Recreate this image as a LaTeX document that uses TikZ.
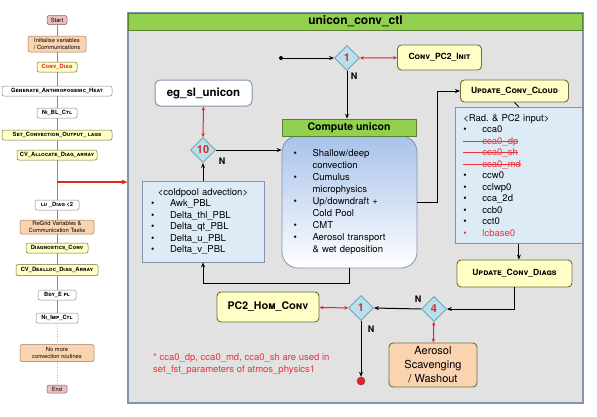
\documentclass[tikz,border=0pt]{standalone}
\usepackage{fontspec}
\setmainfont{TeX Gyre Heros}
\usetikzlibrary{shapes.geometric,arrows.meta}

\definecolor{pinkfill}{HTML}{E8BFBE}
\definecolor{pinkline}{HTML}{8E5B5B}
\definecolor{orangefill}{HTML}{FAD3B0}
\definecolor{orangeline}{HTML}{9C7A5C}
\definecolor{yellowfill}{HTML}{FFFFC6}
\definecolor{yellowline}{HTML}{6E6E3C}
\definecolor{greyline}{HTML}{8A8A8A}
\definecolor{ctlfill}{HTML}{E2E2E2}
\definecolor{ctlline}{HTML}{8393B0}
\definecolor{headgreen}{HTML}{92D050}
\definecolor{headline}{HTML}{5B7F33}
\definecolor{diafill}{HTML}{B6E0EC}
\definecolor{dialine}{HTML}{6A98A8}
\definecolor{listfill}{HTML}{DDEBF7}
\definecolor{computeblue}{HTML}{A8C2EA}
\definecolor{numred}{HTML}{E02828}
\definecolor{textred}{HTML}{E8333A}

\newcommand\modname[1]{\textbf{\textsc{#1}}}
\newcommand\itm{\makebox[19pt][l]{\textbullet}}
\newcommand\struckitem[1]{\leavevmode\setbox0\hbox{#1}\rlap{\rule[2.8pt]{\dimexpr\wd0+19pt\relax}{0.7pt}}\hspace*{19pt}\box0}

\begin{document}
\begin{tikzpicture}[x=1pt, y=-1pt,
      leftbox/.style ={draw, rounded corners=2pt, inner sep=0pt, line width=0.5pt, align=center,
                       font=\fontsize{5.8}{6.7}\selectfont},
      pinkbox/.style ={leftbox, fill=pinkfill, draw=pinkline},
      orangebox/.style ={leftbox, fill=orangefill, draw=orangeline},
      yellowbox/.style ={leftbox, fill=yellowfill, draw=yellowline},
      whitebox/.style ={leftbox, fill=white, draw=greyline},
      colline/.style ={draw=greyline, line width=0.6pt},
      callbox/.style ={draw=yellowline, fill=yellowfill, rounded corners=4pt, line width=0.9pt, inner sep=0pt,
                       font=\fontsize{8.5}{10}\selectfont},
      decision/.style ={diamond, aspect=1, draw=dialine, fill=diafill, line width=0.8pt, minimum size=25pt,
                        inner sep=0pt, text=numred, font=\fontsize{11}{11}\selectfont\bfseries},
      listbox/.style ={draw=ctlline, fill=listfill, line width=0.8pt, align=left,
                       font=\fontsize{9.5}{11.5}\selectfont},
      flow/.style ={-{Stealth[length=5pt,width=4pt]}, line width=1pt},
      link/.style ={{Stealth[length=4pt,width=3.5pt]}-{Stealth[length=4pt,width=3.5pt]}, line width=1pt, numred},
      nlabel/.style ={inner sep=0pt, font=\fontsize{9}{9}\selectfont\bfseries}]
   \useasboundingbox (0,0) rectangle (597,416);

   % main control box
   \node[draw=ctlline, fill=ctlfill, line width=1.2pt, minimum width=455pt, minimum height=390pt, inner sep=0pt]
        (ctl) at (355.5,208) {};
   \node[draw=headline, fill=headgreen, line width=0.6pt, minimum width=454pt, minimum height=17pt, inner sep=0pt,
         font=\fontsize{12}{12}\selectfont\bfseries] (ctlhead) at (355.5,21.5) {unicon\_conv\_ctl};

   % left column
   \node[pinkbox, minimum width=20pt, minimum height=9pt] (start) at (57,20) {Start};
   \node[orangebox, minimum width=58pt, minimum height=16pt] (init) at (57,44) {Initialise variables\\/ Communications};
   \node[yellowbox, minimum width=40pt, minimum height=10pt, text=numred] (convdiag) at (57,67) {\modname{Conv\_Diag}};
   \node[whitebox, minimum width=110pt, minimum height=10pt] (genheat) at (57,91) {\modname{Generate\_Anthropogenic\_Heat}};
   \node[whitebox, minimum width=40pt, minimum height=10pt] (niblctl) at (57,113) {\modname{Ni\_BL\_Ctl}};
   \node[yellowbox, minimum width=110pt, minimum height=10pt] (setflags) at (57,135) {\modname{Set\_Convection\_Output\_ lags}};
   \node[yellowbox, minimum width=80pt, minimum height=10pt] (cvalloc) at (57,155) {\modname{CV\_Allocate\_Diag\_array}};
   \coordinate (tap) at (57,182);
   \node[whitebox, minimum width=44pt, minimum height=10pt] (ludiag) at (57,205) {\modname{lu \_Diag <2}};
   \node[orangebox, minimum width=74pt, minimum height=14pt] (regrid) at (57,227) {ReGrid Variables \&\\Communication Tasks};
   \node[yellowbox, minimum width=62pt, minimum height=10pt] (diagconv) at (57,248) {\modname{Diagnostics\_Conv}};
   \node[yellowbox, minimum width=82pt, minimum height=11pt] (cvdealloc) at (57,270) {\modname{CV\_Dealloc\_Diag\_Array}};
   \node[whitebox, minimum width=38pt, minimum height=10pt] (bdyepl) at (57,295) {\modname{Bdy\_E pl}};
   \node[whitebox, minimum width=42pt, minimum height=10pt] (niimpctl) at (57,318) {\modname{Ni\_Imp\_Ctl}};
   \node[orangebox, minimum width=74pt, minimum height=17pt] (nomore) at (57,353) {No more\\convection routines};
   \node[pinkbox, minimum width=20pt, minimum height=8pt] (end) at (57,389) {End};

   \draw[colline] (start) -- (init);
   \draw[colline] (init) -- (convdiag);
   \draw[colline] (convdiag) -- (genheat);
   \draw[colline] (genheat) -- (niblctl);
   \draw[colline] (niblctl) -- (setflags);
   \draw[colline] (setflags) -- (cvalloc);
   \draw[colline] (cvalloc) -- (ludiag);
   \draw[colline] (ludiag) -- (regrid);
   \draw[colline] (regrid) -- (diagconv);
   \draw[colline] (diagconv) -- (cvdealloc);
   \draw[colline] (cvdealloc) -- (bdyepl);
   \draw[colline] (bdyepl) -- (niimpctl);
   \draw[colline, dotted, draw=greyline!60] (niimpctl) -- (nomore);
   \draw[colline, dotted, draw=greyline!60] (nomore) -- (end);

   \draw[-{Stealth[length=6pt,width=5pt]}, line width=1.2pt, numred] (tap) -- (tap -| ctl.west);

   % top branch
   \node[circle, fill=black, minimum size=4pt, inner sep=0pt] (dot1) at (281,58) {};
   \node[decision] (d1) at (347,58) {1};
   \node[callbox, minimum width=84pt, minimum height=25pt] (pc2init) at (439.5,57.5) {\modname{Conv\_PC2\_Init}};
   \node[nlabel] (nd1) at (354,76) {N};
   \draw[flow] (dot1) -- (d1);
   \draw[link] (d1) -- (pc2init);

   % compute unicon
   \node[draw=ctlline, line width=0.8pt, rounded corners=16pt, top color=computeblue, bottom color=white,
         minimum width=135pt, minimum height=132pt, text width=112pt, align=left, inner sep=0pt,
         font=\fontsize{9.5}{12}\selectfont] (compute) at (349.5,202)
        {\itm Shallow/deep\\\hspace*{19pt}convection\\\itm Cumulus\\\hspace*{19pt}microphysics\\
         \itm Up/downdraft +\\\hspace*{19pt}Cold Pool\\\itm CMT\\\itm Aerosol transport\\\hspace*{19pt}\& wet deposition};
   \node[draw=headline, fill=headgreen, line width=0.6pt, minimum width=134pt, minimum height=17pt, inner sep=0pt,
         font=\fontsize{10.5}{10.5}\selectfont\bfseries] (comphead) at (349,127.5) {Compute unicon};
   \draw[flow] (d1.south) -- (d1.south |- comphead.north);

   % coldpool side
   \node[draw=ctlline, fill=white, line width=1pt, rounded corners=5pt, minimum width=97pt, minimum height=26pt,
         font=\fontsize{11.5}{11.5}\selectfont\bfseries] (egsl) at (203.5,93) {eg\_sl\_unicon};
   \node[decision] (d10) at (203,150) {10};
   \node[nlabel] (nd10) at (222,161) {N};
   \node[listbox, minimum width=122pt, minimum height=81pt, text width=104pt, inner xsep=9pt, inner ysep=0pt]
        (coldpool) at (203,221.5)
        {\makebox[\linewidth]{<coldpool advection>}\\\itm Awk\_PBL\\\itm Delta\_thl\_PBL\\\itm Delta\_qt\_PBL\\
         \itm Delta\_u\_PBL\\\itm Delta\_v\_PBL};
   \draw[link] (egsl) -- (d10);
   \draw[flow] (coldpool) -- (d10);
   \draw[flow] (d10.east) -- (d10.east -| compute.west);
   \draw[flow] (compute.south) -- ++(0,15) -| (coldpool.south);

   % cloud update side
   \node[callbox, minimum width=108pt, minimum height=22pt] (upcloud) at (514.5,91) {\modname{Update\_Conv\_Cloud}};
   \coordinate (cloudin) at (437,91);
   \node[listbox, anchor=north west, minimum width=127pt, minimum height=136pt, text width=111pt,
         inner xsep=8pt, inner ysep=1pt] (radlist) at (455,107)
        {<Rad.\ \& PC2 input>\\\itm cca0\\
         {\color{textred}\struckitem{cca0\_dp}}\\{\color{textred}\struckitem{cca0\_sh}}\\
         {\color{textred}\struckitem{cca0\_md}}\\
         \itm ccw0\\\itm cclwp0\\\itm cca\_2d\\\itm ccb0\\\itm cct0\\{\color{textred}\itm lcbase0}};
   \node[callbox, minimum width=115pt, minimum height=27pt] (updiags) at (514.5,273.5) {\modname{Update\_Conv\_Diags}};
   \draw[flow] (compute.east) -| (cloudin) -- (upcloud.west);
   \draw[line width=0.8pt] (upcloud.south) -- (radlist.north);
   \draw[flow] (radlist.south) -- (radlist.south |- updiags.north);

   % bottom branch
   \node[decision] (d4) at (434,309) {4};
   \node[nlabel] (nd4) at (418,299) {N};
   \node[draw=yellowline, fill=orangefill, rounded corners=4pt, line width=0.9pt, minimum width=88pt, minimum height=44pt,
         align=center, inner sep=0pt, font=\fontsize{11}{14}\selectfont] (aerosol) at (433,365)
        {Aerosol\\Scavenging\\/ Washout};
   \node[decision] (d1b) at (361,308) {1};
   \node[nlabel] (nd1b) at (371,329) {N};
   \node[callbox, minimum width=102pt, minimum height=30pt, font=\fontsize{10.5}{12}\selectfont] (pc2hom) at (268,307)
        {\modname{PC2\_Hom\_Conv}};
   \node[circle, draw=numred!70!black, fill=numred, minimum size=8pt, inner sep=0pt] (enddot) at (361,381) {};
   \node[anchor=west, align=left, inner sep=0pt, text=textred, font=\fontsize{9.5}{12}\selectfont] (note) at (153,364)
        {* cca0\_dp, cca0\_md, cca0\_sh are used in\\set\_fst\_parameters of atmos\_physics1};

   \draw[flow] (updiags.south) |- (d4.east);
   \draw[flow] (d4.west) -- (d1b.east);
   \draw[link] (d4) -- (aerosol);
   \draw[link] (pc2hom) -- (d1b);
   \draw[flow] (d1b) -- (enddot);

 \end{tikzpicture}
\end{document}
